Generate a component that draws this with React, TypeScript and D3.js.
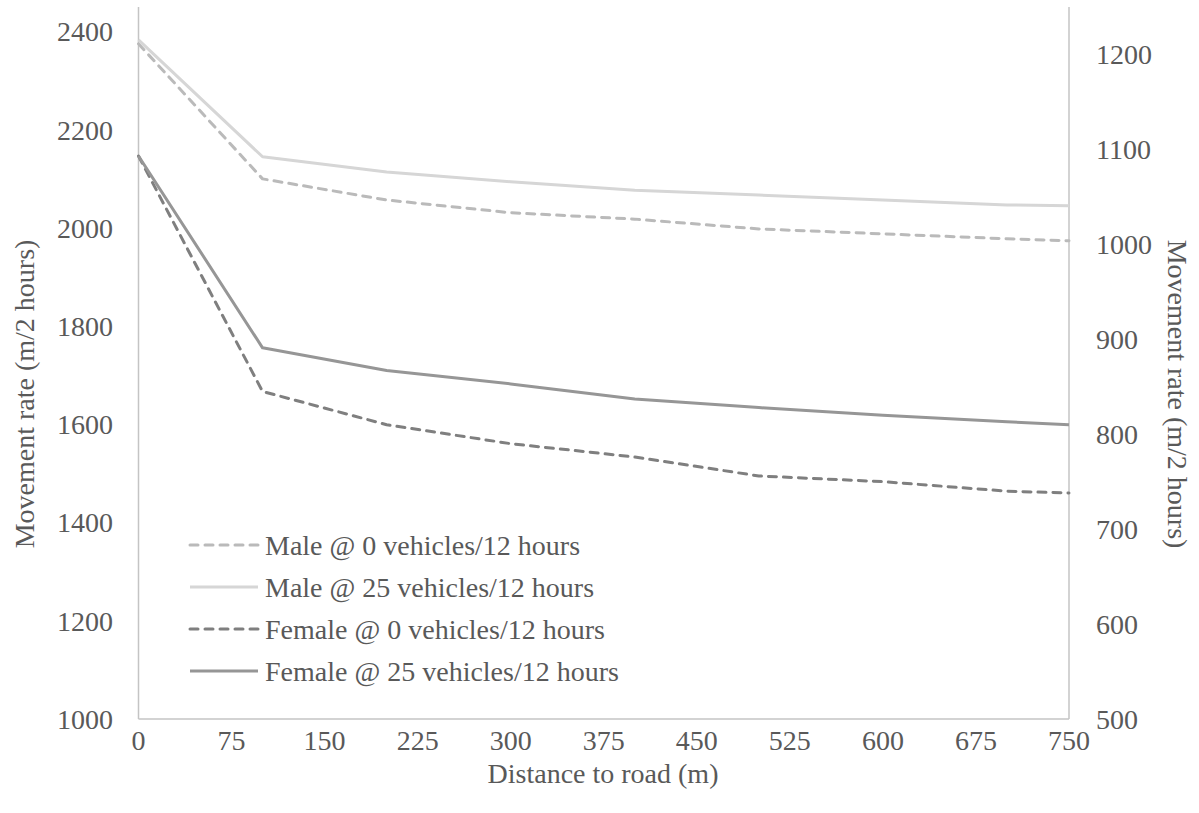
import React from "react";
import * as d3 from "d3";

// Distance to road (m) at which movement rate was evaluated
const distances = [0, 100, 200, 300, 400, 500, 600, 700, 750];

// Males, plotted on the left axis (m/2 hours)
const male0 = [2375, 2100, 2057, 2031, 2018, 1998, 1988, 1978, 1974];
const male25 = [2383, 2145, 2114, 2094, 2077, 2067, 2057, 2047, 2045];

// Females, plotted on the right axis (m/2 hours)
const female0 = [1093, 845, 810, 790, 776, 756, 750, 740, 738];
const female25 = [1093, 891, 867, 853, 837, 828, 820, 813, 810];

const xTicks = [0, 75, 150, 225, 300, 375, 450, 525, 600, 675, 750];
const leftTicks = [1000, 1200, 1400, 1600, 1800, 2000, 2200, 2400];
const rightTicks = [500, 600, 700, 800, 900, 1000, 1100, 1200];

const seriesNames = [
  "Male @ 0 vehicles/12 hours",
  "Male @ 25 vehicles/12 hours",
  "Female @ 0 vehicles/12 hours",
  "Female @ 25 vehicles/12 hours",
];

const W = 1199;
const H = 813;
const plot = { left: 138.5, right: 1069, top: 7, bottom: 719 };
const FONT = '"Liberation Serif", "Times New Roman", Times, serif';
const FS = 28;
const TEXT = "#595959";
const AXIS = "#c4c4c4";
const DASH = "8 7";

export default function App() {
  const x = d3.scaleLinear().domain([0, 750]).range([plot.left, plot.right]);
  const yL = d3.scaleLinear().domain([1000, 2450]).range([plot.bottom, plot.top]);
  const yR = d3.scaleLinear().domain([500, 1250]).range([plot.bottom, plot.top]);

  const lineL = d3
    .line<number>()
    .x((_, i) => x(distances[i]))
    .y((d) => yL(d));
  const lineR = d3
    .line<number>()
    .x((_, i) => x(distances[i]))
    .y((d) => yR(d));

  const series = [
    { name: seriesNames[0], path: lineL(male0), color: "#bababa", dash: DASH },
    { name: seriesNames[1], path: lineL(male25), color: "#d6d6d6", dash: "" },
    { name: seriesNames[2], path: lineR(female0), color: "#7f7f7f", dash: DASH },
    { name: seriesNames[3], path: lineR(female25), color: "#969696", dash: "" },
  ];

  const legendY = [545, 587, 629, 671];
  const textStyle = { fontFamily: FONT, fontSize: FS, fill: TEXT } as const;
  const titleMid = 394;

  return (
    <svg
      width={W}
      height={H}
      style={{ position: "absolute", left: 0, top: 0, background: "#fff", fontFamily: FONT }}
    >
      {/* axis lines */}
      <line x1={plot.left} x2={plot.left} y1={plot.top} y2={plot.bottom} stroke={AXIS} strokeWidth={1.5} />
      <line x1={plot.right} x2={plot.right} y1={plot.top} y2={plot.bottom} stroke={AXIS} strokeWidth={1.5} />
      <line x1={plot.left} x2={plot.right} y1={plot.bottom} y2={plot.bottom} stroke={AXIS} strokeWidth={1.5} />

      {/* left ticks */}
      {leftTicks.map((t) => (
        <text key={"l" + t} x={113} y={yL(t)} dy="0.35em" textAnchor="end" style={textStyle}>
          {t}
        </text>
      ))}
      {/* right ticks */}
      {rightTicks.map((t) => (
        <text key={"r" + t} x={1096} y={yR(t)} dy="0.35em" textAnchor="start" style={textStyle}>
          {t}
        </text>
      ))}
      {/* x ticks */}
      {xTicks.map((t) => (
        <text key={"x" + t} x={x(t)} y={740} dy="0.35em" textAnchor="middle" style={textStyle}>
          {t}
        </text>
      ))}

      {/* axis titles */}
      <text x={603} y={773} dy="0.35em" textAnchor="middle" style={textStyle}>
        Distance to road (m)
      </text>
      <text
        transform={`translate(24, ${titleMid}) rotate(-90)`}
        dy="0.35em"
        textAnchor="middle"
        style={textStyle}
      >
        Movement rate (m/2 hours)
      </text>
      <text
        transform={`translate(1178, ${titleMid}) rotate(90)`}
        dy="0.35em"
        textAnchor="middle"
        style={textStyle}
      >
        Movement rate (m/2 hours)
      </text>

      {/* series */}
      {series.map((s) => (
        <path
          key={s.name}
          d={s.path ?? ""}
          fill="none"
          stroke={s.color}
          strokeWidth={3}
          strokeDasharray={s.dash || undefined}
          strokeLinecap={s.dash ? "round" : "butt"}
          strokeLinejoin="round"
        />
      ))}

      {/* legend */}
      {series.map((s, i) => (
        <g key={"lg" + i}>
          <line
            x1={190}
            x2={258}
            y1={legendY[i]}
            y2={legendY[i]}
            stroke={s.color}
            strokeWidth={3}
            strokeDasharray={s.dash || undefined}
            strokeLinecap={s.dash ? "round" : "butt"}
          />
          <text x={265} y={legendY[i]} dy="0.35em" style={textStyle}>
            {s.name}
          </text>
        </g>
      ))}
    </svg>
  );
}
